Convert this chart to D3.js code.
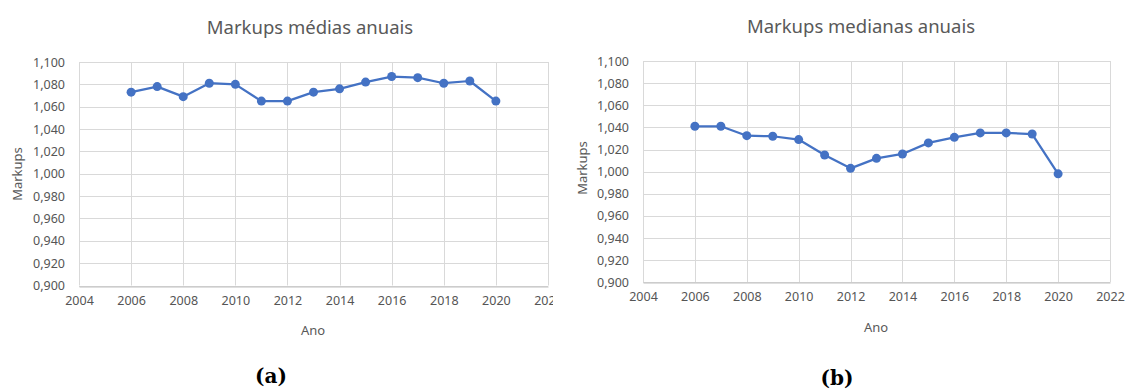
<!DOCTYPE html>
<html>
<head>
<meta charset="utf-8">
<script src="https://cdn.jsdelivr.net/npm/d3@7"></script>
<style>
  body { margin: 0; background: #fff; }
  svg { display: block; }
</style>
</head>
<body>
<div id="chart"></div>
<script>
var years = [2006, 2007, 2008, 2009, 2010, 2011, 2012, 2013, 2014, 2015, 2016, 2017, 2018, 2019, 2020];
var mediasValues = [1.073, 1.078, 1.069, 1.081, 1.080, 1.065, 1.065, 1.073, 1.076, 1.082, 1.087, 1.086, 1.081, 1.083, 1.065];
var medianasValues = [1.041, 1.041, 1.0325, 1.032, 1.029, 1.015, 1.003, 1.012, 1.016, 1.026, 1.031, 1.035, 1.035, 1.034, 0.998];
var xTicks = [2004, 2006, 2008, 2010, 2012, 2014, 2016, 2018, 2020, 2022];
var yTicks = [0.900, 0.920, 0.940, 0.960, 0.980, 1.000, 1.020, 1.040, 1.060, 1.080, 1.100];
var titles = ["Markups médias anuais", "Markups medianas anuais"];
var captions = ["(a)", "(b)"];

var ptBR = d3.formatLocale({ decimal: ",", thousands: ".", grouping: [3], currency: ["R$", ""] });
var fmtY = ptBR.format(".3f");

var svg = d3.select("#chart").append("svg")
    .attr("width", 1125)
    .attr("height", 390);

function drawPanel(cfg) {
    var x = d3.scaleLinear().domain([2004, 2022]).range([cfg.left, cfg.right]);
    var y = d3.scaleLinear().domain([0.9, 1.1]).range([cfg.bottom, cfg.top]);

    var g = svg.append("g");
    if (cfg.clip) {
        g.append("clipPath").attr("id", cfg.id + "-clip")
            .append("rect").attr("x", 0).attr("y", 0).attr("width", cfg.clip).attr("height", 390);
        g.attr("clip-path", "url(#" + cfg.id + "-clip)");
    }

    // gridlines
    g.append("g").selectAll("line.h").data(yTicks).enter().append("line")
        .attr("x1", cfg.left).attr("x2", cfg.right)
        .attr("y1", function (d) { return Math.round(y(d)) + 0.5; })
        .attr("y2", function (d) { return Math.round(y(d)) + 0.5; })
        .attr("stroke", "#d9d9d9").attr("stroke-width", 1);
    g.append("g").selectAll("line.v").data(xTicks).enter().append("line")
        .attr("y1", cfg.top).attr("y2", cfg.bottom)
        .attr("x1", function (d) { return Math.round(x(d)) + 0.5; })
        .attr("x2", function (d) { return Math.round(x(d)) + 0.5; })
        .attr("stroke", "#d9d9d9").attr("stroke-width", 1);

    // axes
    var xAxis = g.append("g")
        .attr("transform", "translate(0," + (Math.round(cfg.bottom) + 0.5) + ")")
        .call(d3.axisBottom(x).tickValues(xTicks).tickFormat(d3.format("d")).tickSize(0).tickPadding(10));
    xAxis.select(".domain").attr("stroke", "#bfbfbf");
    xAxis.selectAll("text").attr("fill", "#555").style("font-size", "12.5px").style("font-family", "Noto Sans");

    var yAxis = g.append("g")
        .attr("transform", "translate(" + (cfg.left - 14) + ",0)")
        .call(d3.axisLeft(y).tickValues(yTicks).tickFormat(fmtY).tickSize(0).tickPadding(0));
    yAxis.select(".domain").remove();
    yAxis.selectAll("text").attr("fill", "#555").style("font-size", "12.5px").style("font-family", "Noto Sans");

    // line + markers
    var pts = years.map(function (yr, i) { return [yr, cfg.values[i]]; });
    var line = d3.line()
        .x(function (d) { return x(d[0]); })
        .y(function (d) { return y(d[1]); });
    g.append("path").datum(pts)
        .attr("d", line)
        .attr("fill", "none")
        .attr("stroke", "#4472c4")
        .attr("stroke-width", 2.25)
        .attr("stroke-linejoin", "round");
    g.selectAll("circle.pt").data(pts).enter().append("circle")
        .attr("cx", function (d) { return x(d[0]); })
        .attr("cy", function (d) { return y(d[1]); })
        .attr("r", 4.5)
        .attr("fill", "#4472c4");

    // titles
    svg.append("text")
        .attr("x", cfg.titleX).attr("y", cfg.titleY)
        .attr("text-anchor", "middle")
        .attr("fill", "#595959")
        .style("font-size", "18.5px").style("font-family", "Noto Sans")
        .text(cfg.title);
    svg.append("text")
        .attr("x", cfg.anoX).attr("y", cfg.anoY)
        .attr("text-anchor", "middle")
        .attr("fill", "#595959")
        .style("font-size", "13px").style("font-family", "Noto Sans")
        .text("Ano");
    svg.append("text")
        .attr("transform", "translate(" + cfg.ylabX + "," + cfg.ylabY + ") rotate(-90)")
        .attr("text-anchor", "middle")
        .attr("fill", "#595959")
        .style("font-size", "13px").style("font-family", "Noto Sans")
        .text("Markups");
    svg.append("text")
        .attr("x", cfg.capX).attr("y", cfg.capY)
        .attr("text-anchor", "middle")
        .attr("fill", "#000")
        .style("font-size", "20px").style("font-weight", "bold").style("font-family", "DejaVu Serif")
        .text(cfg.caption);
}

drawPanel({
    id: "a", values: mediasValues, title: titles[0], caption: captions[0],
    left: 79, right: 548, top: 62, bottom: 285.5, clip: 553,
    titleX: 310, titleY: 34, anoX: 313, anoY: 335, ylabX: 22, ylabY: 174, capX: 271, capY: 383
});
drawPanel({
    id: "b", values: medianasValues, title: titles[1], caption: captions[1],
    left: 643, right: 1110, top: 61, bottom: 282.3, clip: null,
    titleX: 861, titleY: 33, anoX: 876, anoY: 332, ylabX: 587, ylabY: 168, capX: 837, capY: 385
});
</script>
</body>
</html>
